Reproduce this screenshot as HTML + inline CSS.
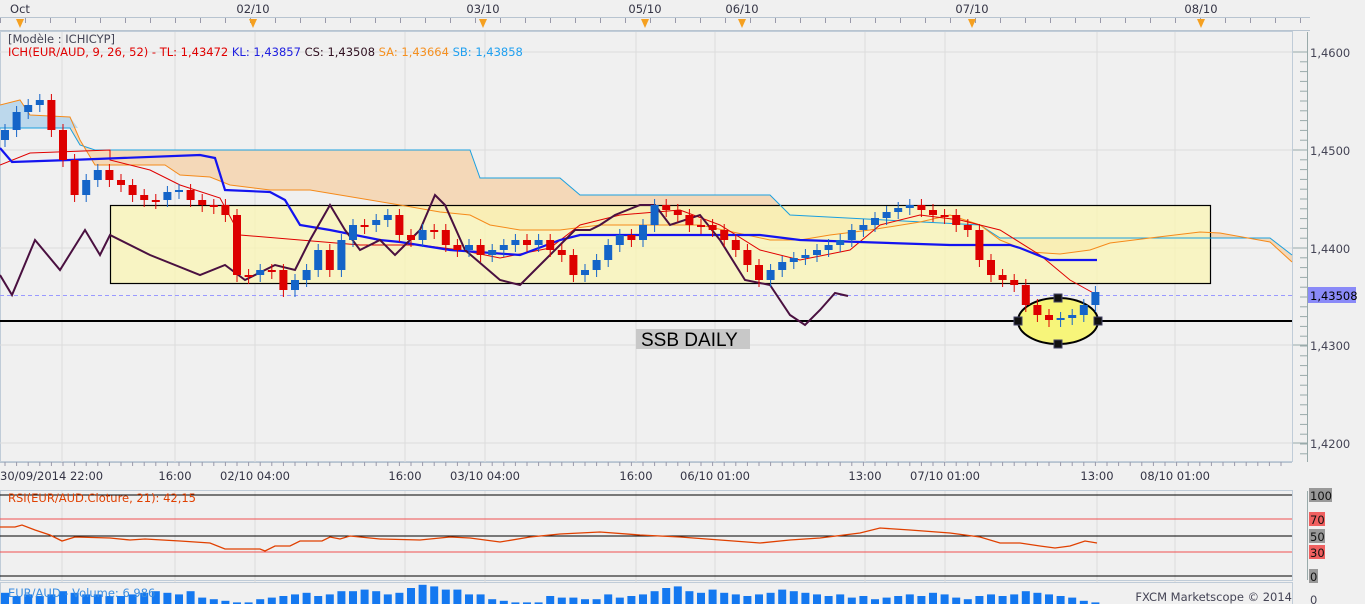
<!DOCTYPE html>
<html><head><meta charset="utf-8"><style>
html,body{margin:0;padding:0;background:#f0f0f0;}
svg{display:block;font-family:"DejaVu Sans","Liberation Sans",sans-serif;}
</style></head><body>
<svg id="s" width="1365" height="604" xmlns="http://www.w3.org/2000/svg"></svg>
<script>
var S=document.getElementById('s'),o='';
function L(pts,c,w,extra){o+='<polyline fill="none" stroke="'+c+'" stroke-width="'+w+'" points="'+pts.map(p=>p.join(',')).join(' ')+'" '+(extra||'')+'/>';}
function T(x,y,t,sz,c,a){o+='<text x="'+x+'" y="'+y+'" font-size="'+sz+'" fill="'+c+'"'+(a?' text-anchor="'+a+'"':'')+'>'+t+'</text>';}
o+='<rect x="0" y="0" width="1365" height="604" fill="#f0f0f0"/>';
o+='<line x1="0" y1="30.5" x2="1310" y2="30.5" stroke="#b8c4d0"/>';
o+='<line x1="0" y1="17.5" x2="1310" y2="17.5" stroke="#b8c4d0"/>';
for(var x=0;x<1310;x+=25){o+='<line x1="'+x+'.5" y1="18" x2="'+x+'.5" y2="23" stroke="#99a"/>';}
[[20,'Oct'],[253,'02/10'],[483,'03/10'],[645,'05/10'],[742,'06/10'],[972,'07/10'],[1201,'08/10']].forEach(function(a){T(a[0],13,a[1],11.5,'#334','middle');o+='<polygon points="'+(a[0]-4)+',19 '+(a[0]+4)+',19 '+a[0]+',28" fill="#f5a020"/>';});
o+='<rect x="0.5" y="31.5" width="1292" height="430" fill="#f0f0f0" stroke="#c0ccd8"/>';
[52,150,248,345,443].forEach(function(y){o+='<line x1="0" y1="'+y+'" x2="1292" y2="'+y+'" stroke="#dcdcdc"/>';});
var vx=[62,175,255,405,485,636,715,865,945,1097,1175];
vx.forEach(function(x){o+='<line x1="'+x+'" y1="32" x2="'+x+'" y2="462" stroke="#dcdcdc"/>';});
var SA=[[0,105],[20,100],[30,115],[70,117],[80,140],[95,165],[165,165],[180,175],[210,177],[230,185],[270,190],[310,190],[340,195],[400,205],[440,212],[470,215],[490,225],[520,230],[560,230],[600,225],[700,225],[770,240],[800,240],[830,235],[870,230],[920,222],[950,215],[980,225],[1000,240],[1030,252],[1060,254],[1090,250],[1110,243],[1150,238],[1200,232],[1220,233],[1270,242],[1292,262]];
var SB=[[0,128],[70,128],[80,145],[95,150],[470,150],[480,178],[560,178],[580,195],[770,195],[790,215],[980,225],[1000,238],[1270,238],[1292,255]];
o+='<polygon points="'+SA.map(p=>p.join(',')).join(' ')+' '+SB.slice().reverse().map(p=>p.join(',')).join(' ')+'" fill="#f4d8b8"/>';
o+='<polygon points="0,105 20,100 30,115 70,117 78,128 0,128" fill="#bcd8ec"/>';
o+='<rect x="110.5" y="205.5" width="1100" height="78" fill="#fbf6b4" fill-opacity="0.75" stroke="#000" stroke-width="1.2"/>';
L(SB,'#1aa0e0',1);L(SA,'#f58a1a',1);
o+='<line x1="0" y1="295.5" x2="1292" y2="295.5" stroke="#9a9aff" stroke-dasharray="4,3"/>';
o+='<line x1="0" y1="321" x2="1292" y2="321" stroke="#000" stroke-width="2"/>';
L([[0,165],[30,153],[110,150],[110,160],[150,170],[180,185],[220,198],[240,235],[300,240],[360,245],[420,245],[460,250],[500,258],[550,248],[580,225],[620,215],[680,210],[720,225],[760,250],[800,260],[850,250],[880,225],[920,215],[960,220],[1000,230],[1040,255],[1070,280],[1097,295]],'#e00000',1);
L([[0,148],[12,162],[70,160],[200,155],[215,158],[225,190],[270,192],[285,200],[300,225],[330,230],[380,240],[400,242],[450,250],[520,255],[560,240],[580,235],[700,235],[760,235],[800,240],[950,245],[1010,245],[1020,248],[1050,260],[1097,260]],'#1414f0',2.2);
L([[0,275],[12,295],[35,240],[60,270],[85,230],[100,255],[110,235],[150,255],[200,275],[225,265],[245,280],[265,270],[275,265],[295,270],[310,240],[330,205],[345,230],[360,250],[380,240],[395,255],[420,230],[435,195],[445,205],[465,250],[500,280],[520,285],[545,260],[575,230],[590,230],[600,225],[615,215],[640,205],[655,205],[670,225],[700,215],[720,240],[745,280],[770,285],[790,315],[805,325],[820,310],[835,293],[848,296]],'#4a1040',2);
o+='<ellipse cx="1058" cy="321" rx="40" ry="23" fill="#f7f57a" stroke="#000" stroke-width="2"/>';
var C=[130,112,105,100,130,160,195,180,170,180,185,195,200,200,192,190,200,205,205,215,275,275,270,270,290,280,270,250,270,240,225,225,220,215,235,240,230,230,245,250,245,255,250,245,240,245,240,250,255,275,270,260,245,235,240,225,205,210,215,225,225,230,240,250,265,280,270,262,258,255,250,245,240,230,225,218,212,208,205,210,215,215,225,230,260,275,280,285,305,315,320,318,315,305,292];
var prev=C[0]+10;
C.forEach(function(c,i){var x=5+i*11.6,op=prev,up=c<op,top=Math.min(c,op),h=Math.max(Math.abs(c-op),2),col=up?'#1464c8':'#dd0000';
o+='<line x1="'+x+'" y1="'+(top-6)+'" x2="'+x+'" y2="'+(top+h+7)+'" stroke="'+col+'"/>';
o+='<rect x="'+(x-4)+'" y="'+top+'" width="8" height="'+h+'" fill="'+col+'"/>';prev=c;});
[[1018,321],[1058,298],[1098,321],[1058,344]].forEach(function(p){o+='<rect x="'+(p[0]-4)+'" y="'+(p[1]-4)+'" width="8" height="8" fill="#111" stroke="#446"/>';});
o+='<rect x="636" y="329" width="114" height="20" fill="#c8c8c8"/>';o+='<text x="641" y="346" font-size="19" fill="#000" font-family="Liberation Sans,sans-serif">SSB DAILY</text>';
T(8,43,'[Modèle : ICHICYP]',11.5,'#445');
o+='<text x="8" y="56" font-size="11.5"><tspan fill="#e00000">ICH(EUR/AUD, 9, 26, 52) -  TL: 1,43472 </tspan><tspan fill="#2020e0"> KL: 1,43857 </tspan><tspan fill="#301020"> CS: 1,43508 </tspan><tspan fill="#f59020"> SA: 1,43664 </tspan><tspan fill="#20a0f0"> SB: 1,43858</tspan></text>';
o+='<line x1="1307.5" y1="32" x2="1307.5" y2="462" stroke="#9aa"/>';
for(var y=52;y<462;y+=9.8){o+='<line x1="1300" y1="'+y+'" x2="1307" y2="'+y+'" stroke="#9aa"/>';}
[[52,'1,4600'],[150,'1,4500'],[248,'1,4400'],[345,'1,4300'],[443,'1,4200']].forEach(function(a){o+='<line x1="1293" y1="'+a[0]+'" x2="1307" y2="'+a[0]+'" stroke="#9aa"/>';T(1310,a[0]+5,a[1],11.5,'#445');});
o+='<rect x="1308" y="287" width="48" height="16" fill="#8a8af8"/>';T(1310,300,'1,43508',11.5,'#000');
o+='<line x1="0" y1="462.5" x2="1292" y2="462.5" stroke="#b8c4d0"/>';
for(var x=5;x<1292;x+=11.6){o+='<line x1="'+x+'" y1="462" x2="'+x+'" y2="466" stroke="#99a"/>';}
[[0,'30/09/2014 22:00','start'],[175,'16:00'],[255,'02/10 04:00'],[405,'16:00'],[485,'03/10 04:00'],[636,'16:00'],[715,'06/10 01:00'],[865,'13:00'],[945,'07/10 01:00'],[1097,'13:00'],[1175,'08/10 01:00']].forEach(function(a){T(a[0],480,a[1],11.5,'#334',a[2]||'middle');});
o+='<rect x="0.5" y="490.5" width="1292" height="90" fill="#f0f0f0" stroke="#c0ccd8"/>';
vx.forEach(function(x){o+='<line x1="'+x+'" y1="491" x2="'+x+'" y2="604" stroke="#dcdcdc"/>';});
o+='<line x1="0" y1="495" x2="1292" y2="495" stroke="#000"/><line x1="0" y1="519" x2="1292" y2="519" stroke="#f05050"/><line x1="0" y1="536" x2="1292" y2="536" stroke="#000"/><line x1="0" y1="552" x2="1292" y2="552" stroke="#f05050"/><line x1="0" y1="576" x2="1292" y2="576" stroke="#000"/>';
T(8,502,'RSI(EUR/AUD.Cloture, 21): 42,15',11.5,'#e04000');
L([[0,527],[15,527],[22,525],[35,530],[50,535],[62,541],[75,537],[110,538],[130,540],[145,539],[180,541],[210,543],[225,549],[260,549],[265,551],[275,546],[290,546],[300,541],[322,541],[330,537],[340,539],[350,536],[380,539],[420,540],[450,537],[470,538],[500,542],[530,537],[560,534],[600,532],[640,535],[680,537],[720,540],[760,543],[790,540],[820,538],[860,533],[880,528],[910,530],[950,533],[980,537],[1000,543],[1020,543],[1040,546],[1055,548],[1070,546],[1085,541],[1097,543]],'#e04000',1.3);
o+='<line x1="1307.5" y1="491" x2="1307.5" y2="580" stroke="#9aa"/>';
[[495,'100','#999'],[519,'70','#f06060'],[536,'50','#999'],[552,'30','#f06060'],[576,'0','#999']].forEach(function(a){o+='<rect x="1309" y="'+(a[0]-7)+'" width="'+(a[1].length*7+2)+'" height="14" fill="'+a[2]+'"/>';T(1310,a[0]+5,a[1],11.5,'#111');});
o+='<rect x="0.5" y="582.5" width="1292" height="24" fill="#f0f0f0" stroke="#c0ccd8"/>';
for(var i=0;i<95;i++){var x=1+i*11.6,h=[7,5,6,5,6,8,7,6,6,5,5,6,7,8,7,6,8,4,3,2,1,1,3,4,5,6,7,5,6,8,8,9,8,6,7,10,12,11,9,9,6,6,3,2,1,1,1,5,4,4,3,3,6,4,5,6,8,10,11,8,7,9,7,6,5,6,7,9,8,7,6,5,6,4,5,3,4,5,6,5,7,6,4,3,5,6,5,6,8,7,6,5,4,2,1][i];o+='<rect x="'+x+'" y="'+(604-h*1.6)+'" width="8" height="'+(h*1.6)+'" fill="#1478f0"/>';}
T(8,597,'EUR/AUD - Volume: 6 986',11.5,'#3b8de0');
T(1292,601,'FXCM Marketscope © 2014',11.5,'#445','end');
T(1310,604,'0',11.5,'#445');
S.innerHTML=o;
</script>
</body></html>
